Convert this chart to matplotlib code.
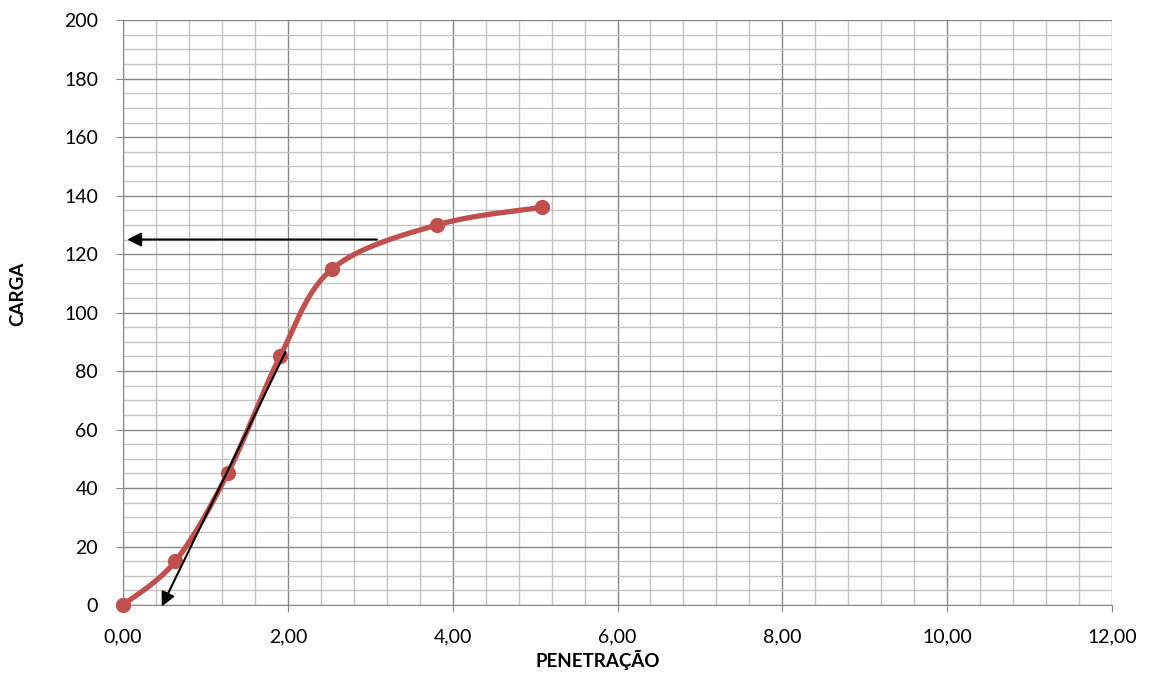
import numpy as np
from matplotlib import pyplot as plt
from matplotlib.ticker import MultipleLocator, FuncFormatter

plt.rcParams.update({
    "font.family": ['Lato', 'DejaVu Sans'],
    "font.size": 14,
})

penetracao = [0.0, 0.635, 1.27, 1.905, 2.54, 3.81, 5.08]
carga = [0, 15, 45, 85, 115, 130, 136]

# arrows (start -> tip), in data units
arrow_h = [(3.08, 125), (0.05, 125)]
arrow_d = [(1.97, 86.5), (0.47, -0.5)]


def excel_smooth(xs, ys, sx, sy, n=40):
    # bezier smoothing like excel, done in scaled (pixel-like) space
    p = np.column_stack([np.array(xs) * sx, np.array(ys) * sy])
    pts = np.vstack([p[0], p, p[-1]])
    out = []
    t = np.linspace(0, 1, n)[:, None]
    for i in range(1, len(pts) - 2):
        p0, p3 = pts[i], pts[i + 1]
        p1 = p0 + (pts[i + 1] - pts[i - 1]) / 6
        p2 = p3 - (pts[i + 2] - pts[i]) / 6
        seg = (1 - t) ** 3 * p0 + 3 * (1 - t) ** 2 * t * p1 + 3 * (1 - t) * t ** 2 * p2 + t ** 3 * p3
        out.append(seg)
    out = np.vstack(out)
    return out[:, 0] / sx, out[:, 1] / sy


fig = plt.figure(figsize=(11.52, 6.75), dpi=100)
ax = fig.add_axes([0.1068, 0.1037, 0.9653 - 0.1068, 0.970 - 0.1037])

ax.set_xlim(0, 12)
ax.set_ylim(0, 200)
ax.xaxis.set_major_locator(MultipleLocator(2))
ax.xaxis.set_minor_locator(MultipleLocator(0.4))
ax.yaxis.set_major_locator(MultipleLocator(20))
ax.yaxis.set_minor_locator(MultipleLocator(5))
ax.xaxis.set_major_formatter(FuncFormatter(lambda v, pos: f"{v:.2f}".replace('.', ',')))

ax.grid(which='major', color='#878787', lw=1.0)
ax.grid(which='minor', color='#c4c4c4', lw=1.0)
ax.set_axisbelow(True)
for s in ['top', 'right']:
    ax.spines[s].set_visible(False)
for s in ['left', 'bottom']:
    ax.spines[s].set_color('#878787')
ax.tick_params(which='major', length=5, color='#878787', labelsize=14)
ax.tick_params(axis='y', which='major', pad=13)
ax.tick_params(axis='x', which='major', pad=12)
ax.tick_params(which='minor', length=0)

sx, sy = 82.4, 2.925
cx, cy = excel_smooth(penetracao, carga, sx, sy)
ax.plot(cx, cy, color='#C0504D', lw=3.8, solid_capstyle='round', clip_on=False, zorder=3)
ax.plot(penetracao, carga, 'o', color='#C0504D', ms=10, clip_on=False, zorder=4)

for (x0, y0), (x1, y1) in [arrow_h, arrow_d]:
    ax.annotate('', xy=(x1, y1), xytext=(x0, y0),
                arrowprops=dict(arrowstyle='-|>', color='black', lw=1.5,
                                mutation_scale=21, shrinkA=0, shrinkB=0),
                annotation_clip=False, zorder=5)

ax.text(0.480, -0.094, 'PENETRAÇÃO', transform=ax.transAxes, ha='center', va='center',
        fontweight='bold', fontsize=13.5)
ax.text(-0.106, 0.532, 'CARGA', transform=ax.transAxes, ha='center', va='center',
        rotation=90, fontweight='bold', fontsize=13.5)

fig.savefig('out.png')
